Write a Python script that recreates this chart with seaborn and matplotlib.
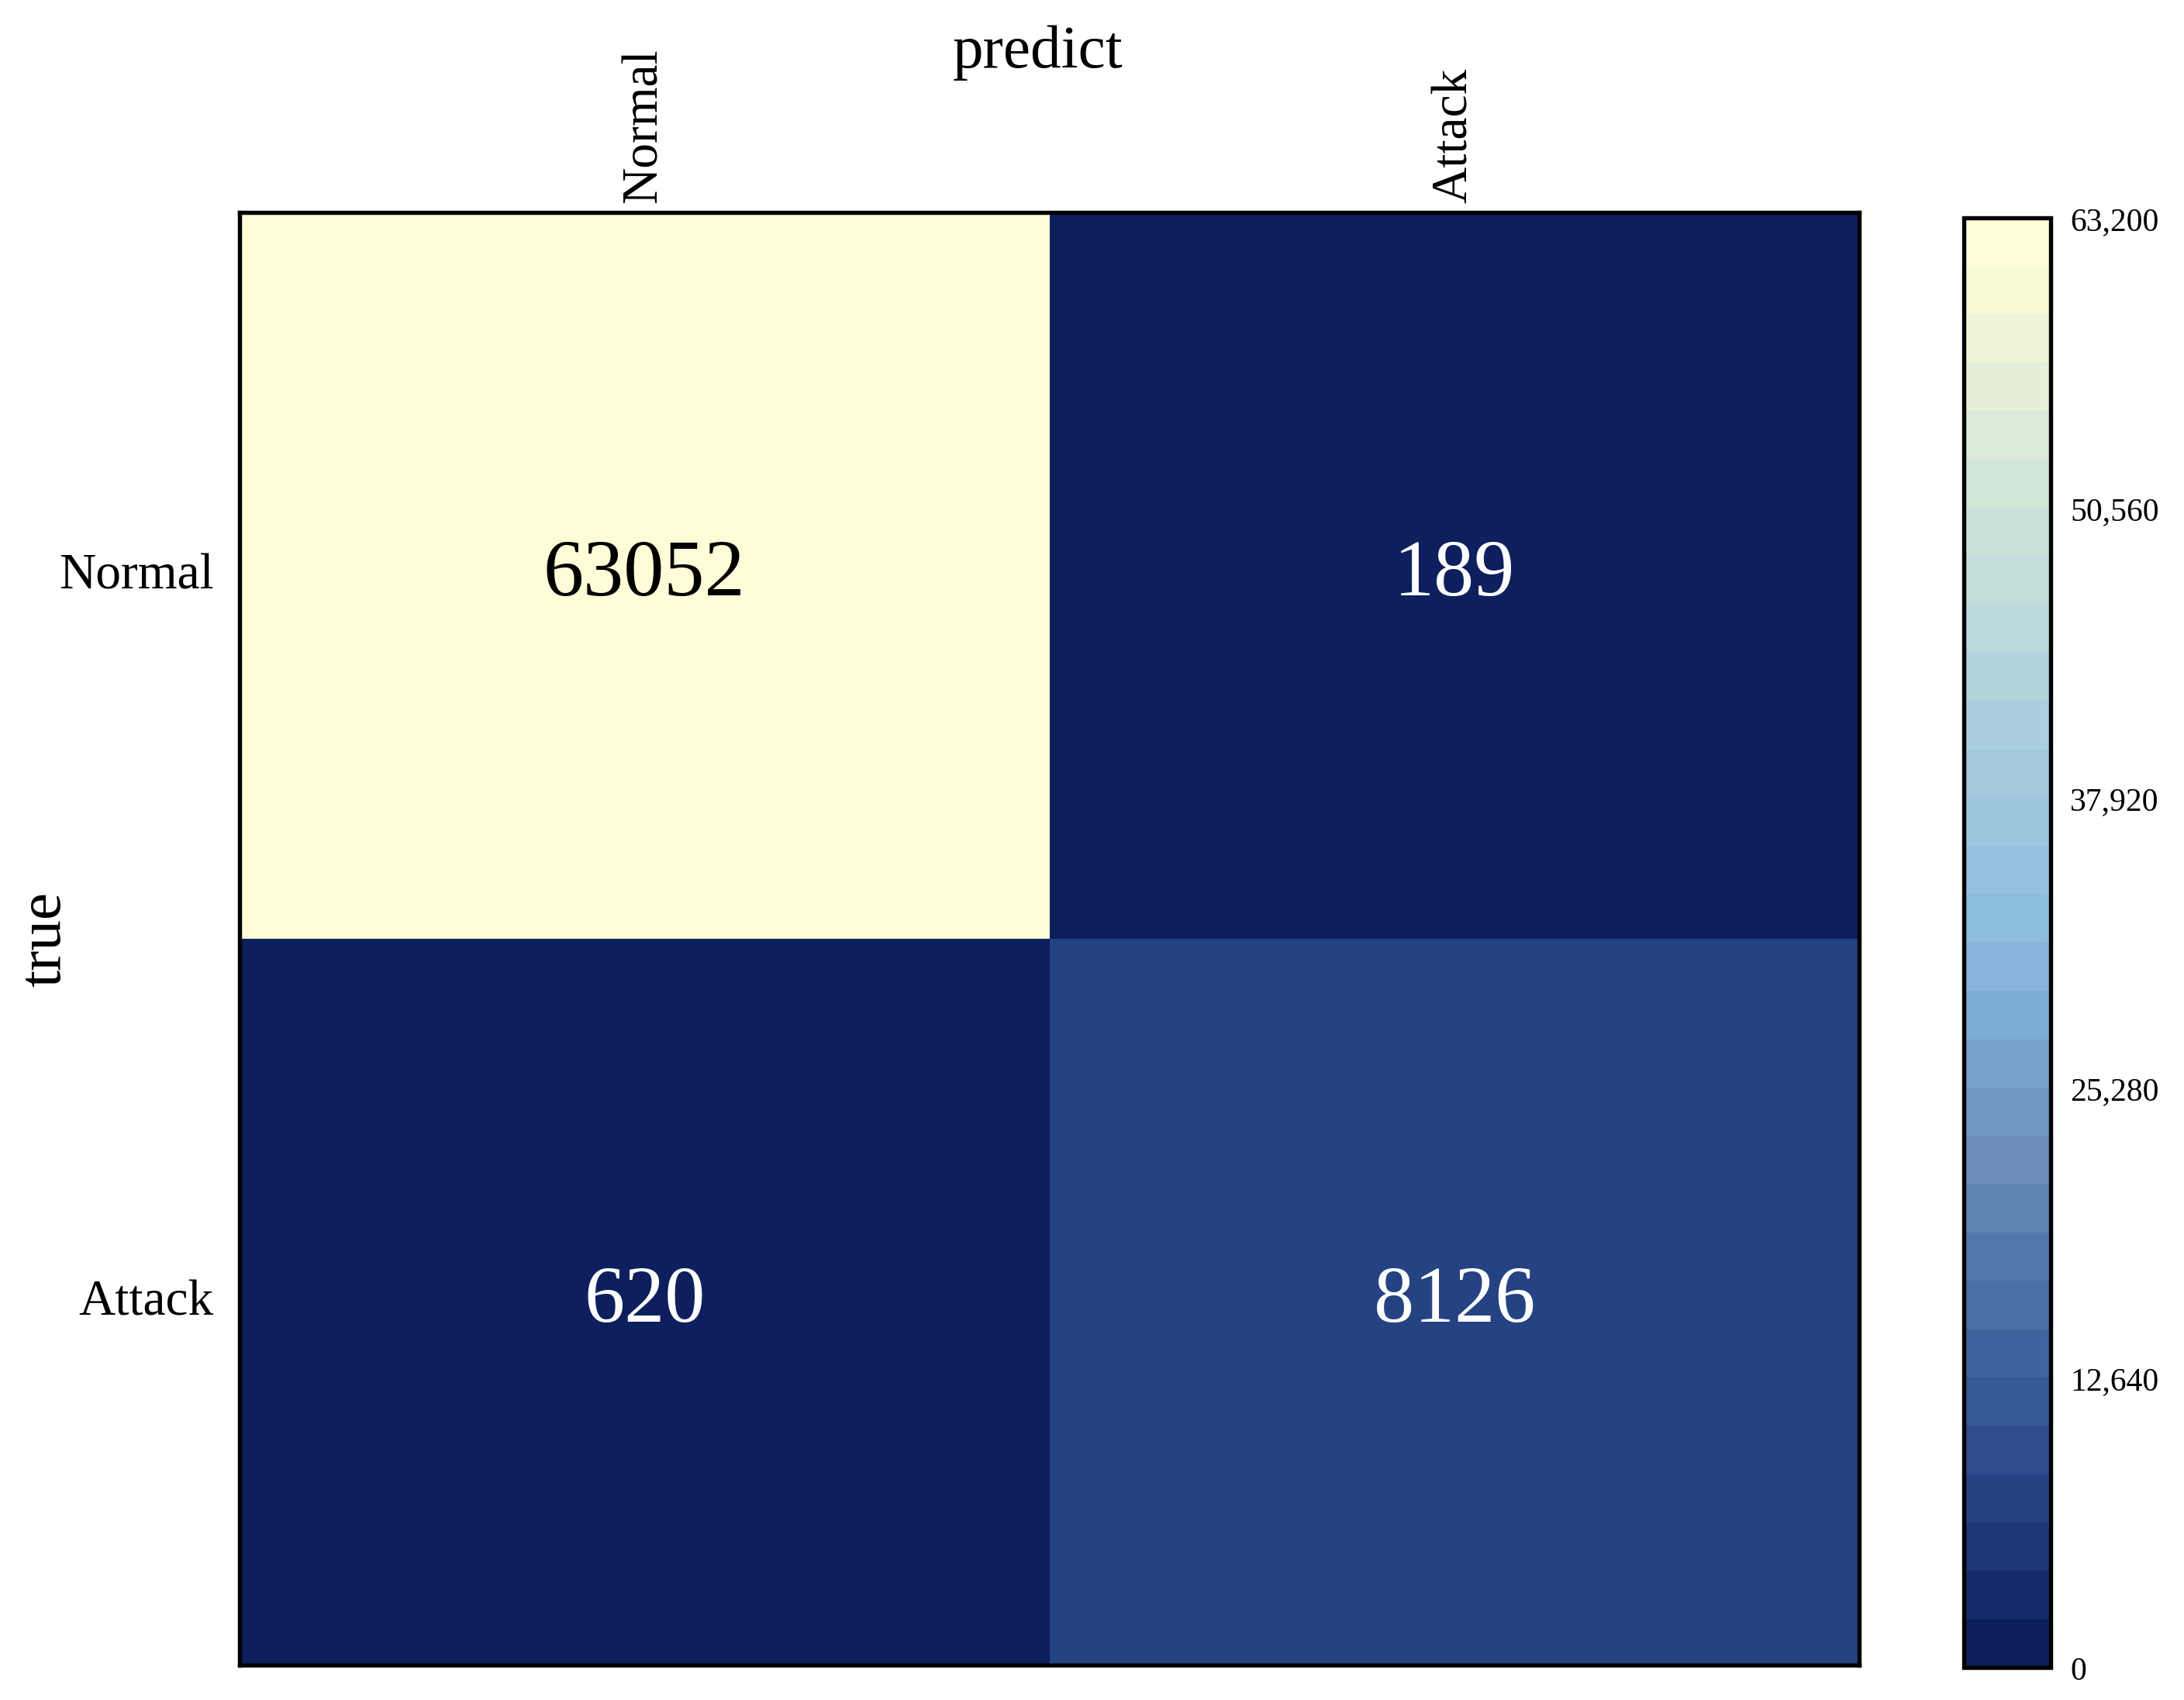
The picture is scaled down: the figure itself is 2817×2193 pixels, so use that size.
import numpy as np
import pandas as pd
import seaborn as sns
import matplotlib.pyplot as plt
from matplotlib.colors import LinearSegmentedColormap, ListedColormap
from matplotlib.ticker import FuncFormatter

# confusion matrix values
labels = ['Normal', 'Attack']
row_normal = [63052, 189]
row_attack = [620, 8126]
cbar_ticks = [0, 12640, 25280, 37920, 50560, 63200]

cm = pd.DataFrame([row_normal, row_attack], index=labels, columns=labels)

sns.set_style('white')
plt.rcParams['font.family'] = ['Liberation Serif', 'DejaVu Serif']
plt.rcParams['text.color'] = 'black'
plt.rcParams['axes.labelcolor'] = 'black'
plt.rcParams['xtick.color'] = 'black'
plt.rcParams['ytick.color'] = 'black'

# colour ramp, cut into 30 flat bands
anchors = [(0.00, '#0e1f5e'), (0.13, '#2b4b8c'), (0.24, '#4b6ea5'),
           (0.35, '#6b8fba'), (0.46, '#82b0d4'), (0.53, '#91bedf'),
           (0.62, '#a3c9dc'), (0.72, '#bad8dc'), (0.83, '#d3e6d8'),
           (1.00, '#fffdd7')]
smooth = LinearSegmentedColormap.from_list('cm_ramp', anchors)
bands = ListedColormap(smooth(np.linspace(0, 1, 30)))

fig = plt.figure(figsize=(9.39, 7.313), dpi=300)
ax = fig.add_axes([0.1097, 0.0205, 0.7416, 0.8542])
cax = fig.add_axes([0.8992, 0.0191, 0.0398, 0.8524])

sns.heatmap(cm, ax=ax, cbar_ax=cax, cmap=bands, vmin=0, vmax=63200,
            annot=True, fmt='d', annot_kws={'size': 25},
            cbar_kws={'ticks': cbar_ticks,
                      'format': FuncFormatter(lambda v, p: f'{int(v):,}')})

# light cell gets pure black text like the original
for t in ax.texts:
    if t.get_color() != 'w':
        t.set_color('black')

ax.xaxis.tick_top()
ax.xaxis.set_label_position('top')
ax.set_xticklabels(labels, rotation=90, fontsize=15.7)
ax.set_yticklabels(labels, rotation=0, fontsize=15.7)
ax.tick_params(axis='x', length=0, pad=3)
ax.tick_params(axis='y', length=0, pad=8)
ax.set_xlabel('predict', fontsize=19)
ax.xaxis.set_label_coords(0.493, 1.10)
ax.set_ylabel('true', fontsize=19)
ax.yaxis.set_label_coords(-0.103, 0.5)
for s in ax.spines.values():
    s.set_visible(True)
    s.set_linewidth(1.3)
    s.set_color('black')

cbar = ax.collections[0].colorbar
cbar.ax.tick_params(labelsize=10, length=0, pad=6)
cbar.outline.set_visible(True)
cbar.outline.set_linewidth(1.3)
cbar.outline.set_edgecolor('black')

fig.savefig('out.png', dpi=300)
